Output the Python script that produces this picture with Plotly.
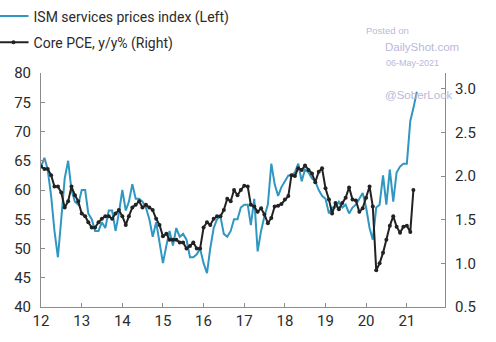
import pandas as pd
import plotly.graph_objects as go

# ISM services prices index, monthly from Jan 2012 (left axis)
ism_prices = [
    64, 65.5, 63.5, 59, 53, 48.5, 55, 62, 65, 60, 58, 57.5,
    60, 60, 56, 55, 53, 53, 54.5, 53.5, 56.5, 56.5, 53, 56,
    60, 56.5, 58, 61, 58.5, 58.5, 58, 57, 55, 52, 54.5, 51,
    47.5, 50.5, 53, 50.5, 53.5, 52, 52.5, 51.5, 48.5, 48.5, 49, 50,
    47.5, 45.8, 50, 53.5, 55, 55.5, 52.5, 52, 53, 55, 55, 57,
    57.5, 57.5, 54, 58.5, 49.5, 53, 55.5, 57.5, 64.5, 61, 59, 60.5,
    61.5, 62.5, 62.5, 63, 64.5, 61.5, 63.5, 63, 62, 61.5, 60, 59,
    58.5, 56, 57, 57, 58, 57, 57.5, 56, 57, 57.5, 58.5, 59.5,
    57, 53.5, 51.5, 57, 57.5, 62.5, 57.5, 63.5, 58, 63, 64, 64.5,
    64.5, 71.8, 74, 76.8,
]

# Core PCE, y/y %, monthly from Jan 2012 (right axis)
core_pce = [
    2.11, 2.08, 2.08, 2.01, 1.88, 1.88, 1.81, 1.64, 1.71, 1.88, 1.78, 1.71,
    1.57, 1.54, 1.47, 1.41, 1.41, 1.47, 1.51, 1.54, 1.54, 1.51, 1.57, 1.61,
    1.54, 1.44, 1.54, 1.64, 1.67, 1.71, 1.64, 1.67, 1.64, 1.61, 1.51, 1.44,
    1.31, 1.34, 1.27, 1.27, 1.27, 1.24, 1.24, 1.17, 1.20, 1.24, 1.17, 1.17,
    1.41, 1.47, 1.44, 1.51, 1.54, 1.54, 1.61, 1.74, 1.71, 1.84, 1.78, 1.84,
    1.89, 1.88, 1.67, 1.65, 1.59, 1.63, 1.56, 1.46, 1.52, 1.65, 1.66, 1.68,
    1.73, 1.77, 2.01, 2.00, 2.09, 2.07, 2.12, 2.07, 2.03, 1.93, 2.05, 2.09,
    1.86, 1.73, 1.57, 1.69, 1.62, 1.69, 1.75, 1.87, 1.73, 1.72, 1.59, 1.63,
    1.75, 1.88, 1.65, 0.92, 1.00, 1.12, 1.27, 1.43, 1.54, 1.42, 1.35, 1.42,
    1.43, 1.36, 1.84,
]

ism_dates = pd.date_range("2012-01-01", periods=len(ism_prices), freq="MS")
pce_dates = pd.date_range("2012-01-01", periods=len(core_pce), freq="MS")

left_ticks = [40, 45, 50, 55, 60, 65, 70, 75, 80]
right_ticks = [0.5, 1.0, 1.5, 2.0, 2.5, 3.0]

BLUE = "#2f97c1"
DARK = "#222222"
AXIS = "#8c8c8c"
TXT = "#2b2b2b"
FONT = "Liberation Sans Narrow, Roboto, Arial, sans-serif"

fig = go.Figure()
fig.add_trace(go.Scatter(
    x=ism_dates, y=ism_prices, mode="lines",
    name="ISM services prices index (Left)",
    line=dict(color=BLUE, width=2), legendgroup="a",
))
fig.add_trace(go.Scatter(
    x=pce_dates, y=core_pce, mode="lines+markers", yaxis="y2",
    name="Core PCE, y/y% (Right)",
    line=dict(color=DARK, width=2), marker=dict(size=4, color=DARK),
    legendgroup="b",
))

fig.update_layout(
    width=496, height=342,
    margin=dict(l=41, r=51, t=73, b=35, autoexpand=False),
    paper_bgcolor="white", plot_bgcolor="white",
    font=dict(family=FONT, size=15, color=TXT),
    showlegend=True,
    legend=dict(x=-0.1175, xanchor="left", y=1.31, yanchor="top",
                font=dict(size=14, color=TXT), tracegroupgap=5,
                bgcolor="rgba(0,0,0,0)", itemwidth=30),
    xaxis=dict(
        type="date", range=["2012-01-01", "2021-12-10"],
        tickvals=pd.date_range("2012-01-01", "2021-01-01", freq="YS"),
        tickformat="%y", showgrid=False, zeroline=False,
        showline=True, linecolor=AXIS, linewidth=1,
        ticks="inside", ticklen=4, tickcolor=AXIS,
        tickfont=dict(size=15, color=TXT, family=FONT),
    ),
    yaxis=dict(
        range=[40, 80], tickvals=left_ticks, showgrid=False, zeroline=False,
        showline=True, linecolor=AXIS, linewidth=1,
        ticks="inside", ticklen=4, tickcolor=AXIS,
        tickfont=dict(size=15, color=TXT, family=FONT),
        ticklabelstandoff=6,
    ),
    yaxis2=dict(
        range=[0.5, 3.18], tickvals=right_ticks, tickformat=".1f",
        overlaying="y", side="right", showgrid=False, zeroline=False,
        showline=True, linecolor=AXIS, linewidth=1,
        ticks="inside", ticklen=4, tickcolor=AXIS,
        tickfont=dict(size=15, color=TXT, family=FONT),
        ticklabelstandoff=6,
    ),
)

wm = "#b9b9d9"
def px_x(p):
    return (p - 41) / 404

def px_y(p):
    return (307 - p) / 234

for txt, cx, cy, sz in [("Posted on", 387, 30, 9.5), ("DailyShot.com", 422, 47, 11.5),
                         ("06-May-2021", 412, 63, 9), ("@SoberLook", 419, 95, 11.5)]:
    fig.add_annotation(text=txt, xref="paper", yref="paper", x=px_x(cx), y=px_y(cy),
                       xanchor="center", yanchor="middle", showarrow=False,
                       font=dict(size=sz, color=wm, family="Arial"))

fig.write_html("out.html")
